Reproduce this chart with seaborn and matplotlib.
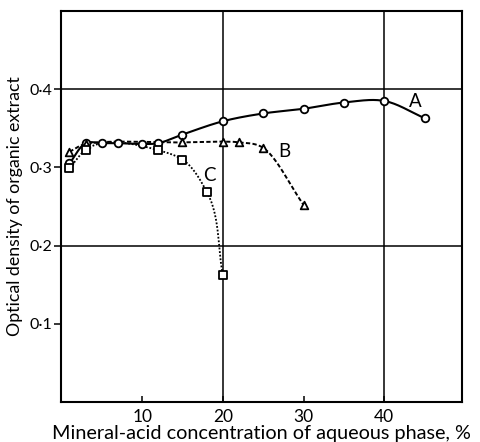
import numpy as np
import pandas as pd
import matplotlib
matplotlib.use("Agg")
import matplotlib.pyplot as plt
import seaborn as sns

# Mineral-acid concentration (%) and optical density for each extraction series
a_x = [1, 3, 5, 7, 10, 12, 15, 20, 25, 30, 35, 40, 45]
a_y = [0.305, 0.331, 0.331, 0.331, 0.330, 0.331, 0.342, 0.359, 0.369, 0.375, 0.383, 0.385, 0.363]
b_x = [1, 3, 15, 20, 22, 25, 30]
b_y = [0.320, 0.330, 0.332, 0.333, 0.332, 0.325, 0.252]
c_x = [1, 3, 12, 15, 18, 20]
c_y = [0.299, 0.3225, 0.322, 0.310, 0.269, 0.162]

x_ticks = [10, 20, 30, 40]
y_ticks = [0.1, 0.2, 0.3, 0.4]
y_tick_labels = ["0·1", "0·2", "0·3", "0·4"]

XLIM = (0, 49.6)
YLIM = (0, 0.5)


def smooth(xs, ys, n=30, alpha=0.5):
    """Catmull-Rom curve through the points (in axis-normalised space)."""
    p = np.column_stack([np.asarray(xs, float) / (XLIM[1] - XLIM[0]),
                         np.asarray(ys, float) / (YLIM[1] - YLIM[0])])
    p = np.vstack([2 * p[0] - p[1], p, 2 * p[-1] - p[-2]])
    out = []
    for i in range(1, len(p) - 2):
        p0, p1, p2, p3 = p[i - 1], p[i], p[i + 1], p[i + 2]
        t0 = 0.0
        t1 = t0 + np.linalg.norm(p1 - p0) ** alpha
        t2 = t1 + np.linalg.norm(p2 - p1) ** alpha
        t3 = t2 + np.linalg.norm(p3 - p2) ** alpha
        t = np.linspace(t1, t2, n)[:, None]
        a1 = (t1 - t) / (t1 - t0) * p0 + (t - t0) / (t1 - t0) * p1
        a2 = (t2 - t) / (t2 - t1) * p1 + (t - t1) / (t2 - t1) * p2
        a3 = (t3 - t) / (t3 - t2) * p2 + (t - t2) / (t3 - t2) * p3
        b1 = (t2 - t) / (t2 - t0) * a1 + (t - t0) / (t2 - t0) * a2
        b2 = (t3 - t) / (t3 - t1) * a2 + (t - t1) / (t3 - t1) * a3
        c = (t2 - t) / (t2 - t1) * b1 + (t - t1) / (t2 - t1) * b2
        out.append(c if i == 1 else c[1:])
    c = np.vstack(out)
    return c[:, 0] * (XLIM[1] - XLIM[0]), c[:, 1] * (YLIM[1] - YLIM[0])


sns.set_theme(style="white")
plt.rcParams["font.family"] = ["Lato", "DejaVu Sans"]

fig = plt.figure(figsize=(4.81, 4.42), dpi=100)
ax = fig.add_axes([0.1277, 0.0907, 0.8323, 0.8843])

# grid lines at 20/40 % and 0.2/0.4 density
for gx in (20, 40):
    ax.axvline(gx, color="black", lw=1.1, zorder=1)
for gy in (0.2, 0.4):
    ax.axhline(gy, color="black", lw=1.1, zorder=1)

series = [
    ("A", a_x, a_y, "o", "-", 1.5),
    ("B", b_x, b_y, "^", (0, (2.2, 1.2)), 1.4),
    ("C", c_x, c_y, "s", (0, (1.0, 1.0)), 1.3),
]
for name, xs, ys, mk, ls, lw in series:
    sx, sy = smooth(xs, ys, alpha=1.0 if name == "C" else 0.5)
    sns.lineplot(x=sx, y=sy, ax=ax, color="black", lw=lw, linestyle=ls,
                 sort=False, estimator=None, zorder=2)
    sns.scatterplot(x=xs, y=ys, ax=ax, marker=mk, s=30, facecolor="white",
                    edgecolor="black", linewidth=1.3, zorder=3)

label_kw = dict(fontsize=13.5, color="black", ha="center", va="center")
ax.text(43.8, 0.384, "A", **label_kw)
ax.text(27.6, 0.320, "B", **label_kw)
ax.text(18.3, 0.290, "C", **label_kw)

ax.set_xlim(*XLIM)
ax.set_ylim(*YLIM)
ax.set_xticks(x_ticks)
ax.set_xticklabels([str(v) for v in x_ticks])
ax.set_yticks(y_ticks)
ax.set_yticklabels(y_tick_labels)
ax.tick_params(axis="x", direction="in", length=4, width=1.1, colors="black",
               labelsize=12.5, pad=5)
ax.tick_params(axis="y", direction="out", length=5, width=1.1, colors="black",
               labelsize=11.5, pad=1.5, left=True)
ax.tick_params(axis="x", bottom=True)
for sp in ax.spines.values():
    sp.set_color("black")
    sp.set_linewidth(1.5)

ax.set_xlabel("Mineral-acid concentration of aqueous phase, %", fontsize=14.3,
              color="black", labelpad=0)
ax.set_ylabel("Optical density of organic extract", fontsize=12.8,
              color="black")
ax.yaxis.set_label_coords(-0.097, 0.5)

fig.savefig("out.png", dpi=100, facecolor="white")
